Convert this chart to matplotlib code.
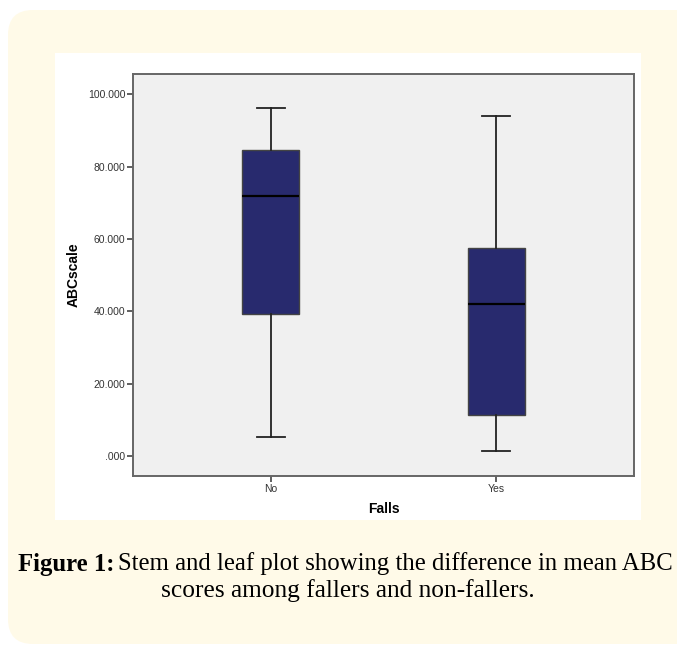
import matplotlib
matplotlib.use("Agg")
import matplotlib.pyplot as plt
import matplotlib.patches as mpatches

# values
groups = ["No", "Yes"]
whisker_low = [5.4, 1.3]
quart1 = [39.4, 11.3]
medians = [71.9, 41.9]
quart3 = [84.6, 57.5]
whisker_high = [96.2, 94.1]

y_ticks = [0, 20, 40, 60, 80, 100]
y_labels = [".000", "20.000", "40.000", "60.000", "80.000", "100.000"]

W, H = 677, 646
fig = plt.figure(figsize=(W / 100, H / 100), dpi=100)
fig.patch.set_facecolor("white")


# pixel box (left, top, right, bottom) -> figure fraction rect
def px_rect(l, t, r, b):
    return [l / W, 1 - b / H, (r - l) / W, (b - t) / H]


# cream card with rounded corners and the white panel on it
bg = fig.add_axes([0, 0, 1, 1])
bg.set_xlim(0, W)
bg.set_ylim(H, 0)
bg.axis("off")
card = mpatches.FancyBboxPatch((8 + 25, 10 + 25), 720 - 50, 634 - 50,
                               boxstyle="round,pad=25", fc="#fffae8", ec="none")
bg.add_patch(card)
bg.add_patch(mpatches.Rectangle((55, 53), 641 - 55, 520 - 53, fc="white", ec="none"))

# the chart itself
ax = fig.add_axes(px_rect(133, 74, 634, 476))
ax.set_facecolor("#f0f0f0")
stats = []
for i in range(len(groups)):
    stats.append({"label": groups[i], "whislo": whisker_low[i], "q1": quart1[i],
                  "med": medians[i], "q3": quart3[i], "whishi": whisker_high[i],
                  "fliers": []})
ax.bxp(stats, positions=range(len(groups)), widths=0.254, capwidths=0.123,
       patch_artist=True, showfliers=False,
       boxprops=dict(facecolor="#282a6e", edgecolor="#444444", linewidth=1.0),
       medianprops=dict(color="black", linewidth=1.6),
       whiskerprops=dict(color="#222222", linewidth=1.3),
       capprops=dict(color="#222222", linewidth=1.3))

ax.set_xlim(-0.611, 1.611)
ax.set_ylim(-5.5, 105.6)
ax.set_yticks(y_ticks)
ax.set_yticklabels(y_labels)
ax.tick_params(axis="both", direction="out", length=4, width=1.2, color="#444444",
               labelsize=7.5, labelcolor="#333333", pad=1.5)
for s in ax.spines.values():
    s.set_color("#666666")
    s.set_linewidth(1.4)
for lab in ax.get_xticklabels() + ax.get_yticklabels():
    lab.set_family("Liberation Sans")

ax.set_xlabel("Falls", family="Liberation Sans", fontsize=10, fontweight="bold", labelpad=6)
ax.set_ylabel("ABCscale", family="Liberation Sans", fontsize=10, fontweight="bold", labelpad=5)

# caption under the panel, bold lead-in then normal text
# font size is fitted so the second line is about 374 px wide like the original
cap_font = "Liberation Serif"
line2 = bg.text(348, 591, "scores among fallers and non-fallers.", family=cap_font,
                fontsize=16, ha="center", va="center")
fig.canvas.draw()
cap_size = 16 * 374 / line2.get_window_extent().width
line2.set_fontsize(cap_size)


def draw_line1(size):
    a = bg.text(18, 564, "Figure 1:", family=cap_font, fontsize=size,
                fontweight="bold", ha="left", va="center")
    fig.canvas.draw()
    w = a.get_window_extent().width
    b = bg.text(18 + w + 4, 564, "Stem and leaf plot showing the difference in mean ABC",
                family=cap_font, fontsize=size, ha="left", va="center")
    fig.canvas.draw()
    return a, b


t1, t2 = draw_line1(cap_size)
right = t2.get_window_extent().x1
if right > 674:
    # keep the first line inside the card instead of running off the edge
    t1.remove()
    t2.remove()
    draw_line1(cap_size * (674 - 18) / (right - 18))

fig.savefig("out.png", dpi=100)
